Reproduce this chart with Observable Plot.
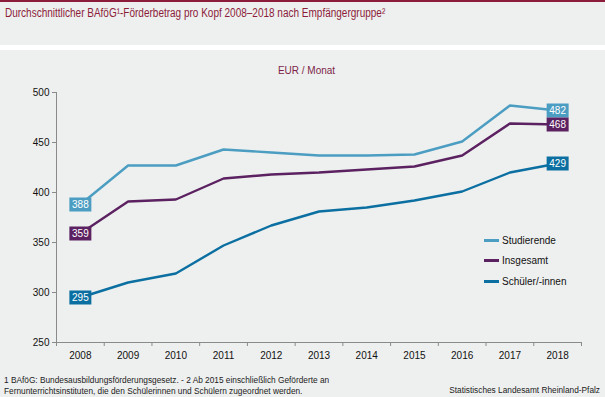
<!DOCTYPE html>
<html>
<head>
<meta charset="utf-8">
<script src="https://cdn.jsdelivr.net/npm/d3@7"></script>
<script src="https://cdn.jsdelivr.net/npm/@observablehq/plot@0.6"></script>
<style>
  html, body { margin: 0; padding: 0; }
  body { width: 605px; height: 397px; background: #eef0ef; position: relative; overflow: hidden; font-family: "Liberation Sans", Arial, sans-serif; }
  #topbar { position: absolute; left: 0; top: 0; width: 605px; height: 2px; background: #8c1c3a; }
  #title { position: absolute; left: 5px; top: 6px; font-size: 12.5px; color: #8c1c3a; white-space: nowrap; transform: scaleX(0.8); transform-origin: left top; }
  #sep { position: absolute; left: 0; top: 45px; width: 605px; height: 5px; background: #ffffff; }
  #unit { position: absolute; left: 0; width: 605px; top: 65px; text-align: center; font-size: 10px; color: #7d1f48; padding-left: 8px; box-sizing: border-box; }
  #chart { position: absolute; left: 0; top: 50px; }
  #legend { position: absolute; left: 484px; top: 230px; font-size: 10px; color: #111; }
  .li { height: 20.5px; display: flex; align-items: center; }
  .sw { width: 15px; height: 3px; margin-right: 3px; }
  #foot { position: absolute; left: 4px; top: 375px; font-size: 8.3px; color: #222; line-height: 10.5px; white-space: nowrap; }
  #src { position: absolute; right: 5px; top: 385px; font-size: 8.3px; color: #222; white-space: nowrap; }
</style>
</head>
<body>
<div id="topbar"></div>
<div id="title">Durchschnittlicher BAföG¹-Förderbetrag pro Kopf 2008–2018 nach Empfängergruppe²</div>
<div id="sep"></div>
<div id="chart"></div>
<div id="unit">EUR / Monat</div>
<div id="legend"></div>
<div id="foot">1 BAföG: Bundesausbildungsförderungsgesetz.  - 2 Ab 2015 einschließlich Geförderte an<br>Fernunterrichtsinstituten, die den Schülerinnen und Schülern zugeordnet werden.</div>
<div id="src">Statistisches Landesamt Rheinland-Pfalz</div>
<script>
const years = [2008, 2009, 2010, 2011, 2012, 2013, 2014, 2015, 2016, 2017, 2018];
const studierende = [388, 427, 427, 443, 440, 437, 437, 438, 451, 487, 482];
const insgesamt = [359, 391, 393, 414, 418, 420, 423, 426, 437, 469, 468];
const schueler = [295, 310, 319, 347, 367, 381, 385, 392, 401, 420, 429];
const seriesNames = ["Studierende", "Insgesamt", "Schüler/-innen"];
const seriesColors = ["#4b9dc2", "#5b2160", "#0b6fa1"];
const yTicks = [250, 300, 350, 400, 450, 500];

const seriesValues = [studierende, insgesamt, schueler];
const data = [];
seriesNames.forEach((s, i) => years.forEach((y, j) => data.push({series: s, year: y, value: seriesValues[i][j]})));
const endpoints = data.filter(d => d.year === years[0] || d.year === years[years.length - 1]);

const boxSymbol = { draw(ctx, size) { ctx.rect(-11, -7, 22, 14); } };
const bounds = years.map(y => y - 0.5).concat([years[years.length - 1] + 0.5]);

const chart = Plot.plot({
  width: 605,
  height: 320,
  marginTop: 42,
  marginBottom: 28,
  marginLeft: 56,
  marginRight: 24,
  style: { background: "transparent", fontFamily: "Liberation Sans, Arial, sans-serif", fontSize: "10px", color: "#111" },
  x: { type: "linear", domain: [bounds[0], bounds[bounds.length - 1]], axis: null },
  y: { type: "linear", domain: [250, 500], axis: null },
  color: { domain: seriesNames, range: seriesColors },
  marks: [
    Plot.ruleX([bounds[0]], { y1: 250, y2: 500, stroke: "#8a8a8a", strokeWidth: 1 }),
    Plot.ruleY([250], { x1: bounds[0], x2: bounds[bounds.length - 1], stroke: "#8a8a8a", strokeWidth: 1 }),
    Plot.axisY(yTicks, { anchor: "left", tickSize: 4, tickPadding: 3, stroke: "#8a8a8a", fill: "#111", fontSize: 10, label: null }),
    Plot.axisX(bounds, { anchor: "bottom", tickSize: 4, tickFormat: () => "", stroke: "#8a8a8a", label: null }),
    Plot.axisX(years, { anchor: "bottom", tickSize: 0, tickPadding: 9, tickFormat: d => String(d), fill: "#111", fontSize: 10, label: null }),
    Plot.line(data, { x: "year", y: "value", z: "series", stroke: "series", strokeWidth: 2.4, strokeLinejoin: "miter" }),
    Plot.dot(endpoints, { x: "year", y: "value", fill: "series", symbol: boxSymbol, r: 5, stroke: "none" }),
    Plot.text(endpoints, { x: "year", y: "value", text: d => String(d.value), fill: "white", fontSize: 10, dy: 0.5 })
  ]
});
document.getElementById("chart").appendChild(chart);

const legend = document.getElementById("legend");
seriesNames.forEach((s, i) => {
  const row = document.createElement("div");
  row.className = "li";
  const sw = document.createElement("div");
  sw.className = "sw";
  sw.style.background = seriesColors[i];
  const t = document.createElement("span");
  t.textContent = s;
  row.appendChild(sw); row.appendChild(t);
  legend.appendChild(row);
});
</script>
</body>
</html>
